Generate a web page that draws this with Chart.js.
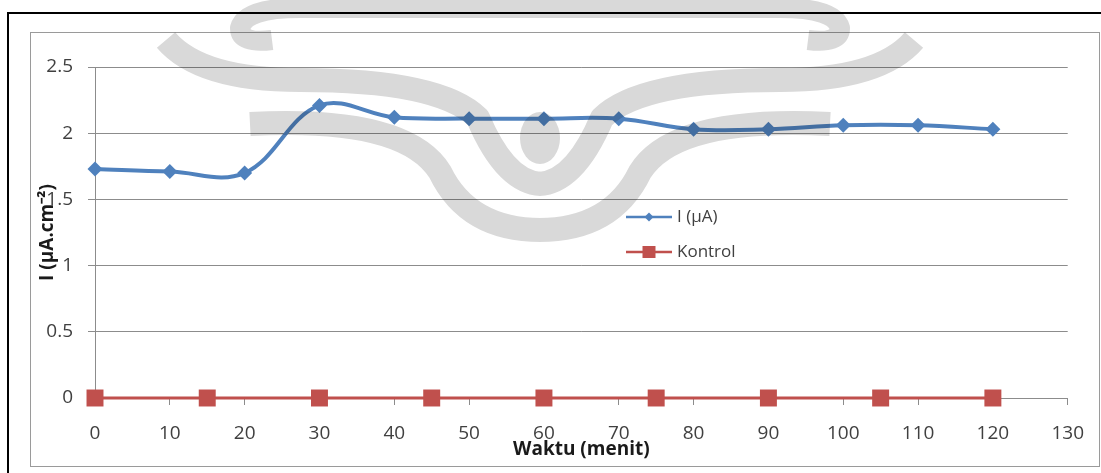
<!DOCTYPE html>
<html>
<head>
<meta charset="utf-8">
<script src="https://cdn.jsdelivr.net/npm/chart.js@4.4.1/dist/chart.umd.min.js"></script>
<style>
  html, body { margin: 0; padding: 0; background: #ffffff; }
  #wrap { position: absolute; left: 0; top: 0; width: 1101px; height: 473px; }
</style>
</head>
<body>
<div id="wrap"><canvas id="c" width="1101" height="473"></canvas></div>
<script>
// Time in minutes and measured current
const waktuArus = [0, 10, 20, 30, 40, 50, 60, 70, 80, 90, 100, 110, 120];
const arus = [1.73, 1.71, 1.70, 2.21, 2.12, 2.11, 2.11, 2.11, 2.03, 2.03, 2.06, 2.06, 2.03];

// Control series
const waktuKontrol = [0, 15, 30, 45, 60, 75, 90, 105, 120];
const kontrol = [0, 0, 0, 0, 0, 0, 0, 0, 0];

const labelArus = 'I (µA)';
const labelKontrol = 'Kontrol';
const judulX = 'Waktu (menit)';
const judulY = 'I (µA.cm⁻²)';

const FONT = '"Open Sans", "Liberation Sans", sans-serif';
const BLUE = '#4F81BD';
const RED = '#C0504D';
const GRID = '#8c8c8c';
const TEXT = '#404040';

function toXY(xs, ys) { return xs.map((x, i) => ({ x: x, y: ys[i] })); }

// Page frame and chart border
const framePlugin = {
  id: 'frame',
  beforeDraw(chart) {
    const ctx = chart.ctx;
    ctx.save();
    ctx.fillStyle = '#ffffff';
    ctx.fillRect(0, 0, chart.width, chart.height);
    ctx.strokeStyle = '#000000';
    ctx.lineWidth = 2;
    ctx.beginPath();
    ctx.moveTo(1101, 13);
    ctx.lineTo(8, 13);
    ctx.lineTo(8, 473);
    ctx.stroke();
    ctx.strokeStyle = '#9a9a9a';
    ctx.lineWidth = 1;
    ctx.strokeRect(30.5, 32.5, 1069, 434);
    ctx.restore();
  }
};

// Faint symmetric emblem printed over the page; painted once on its own
// layer, then multiplied so everything underneath shows through
const emblemPlugin = {
  id: 'emblem',
  afterDatasetsDraw(chart) {
    const layer = document.createElement('canvas');
    layer.width = chart.width;
    layer.height = chart.height;
    const g = layer.getContext('2d');
    g.strokeStyle = '#d9d9d9';
    g.fillStyle = '#d9d9d9';
    g.lineCap = 'butt';
    g.lineJoin = 'round';
    const half = () => {
      // top band with curl
      g.lineWidth = 20;
      g.beginPath();
      g.moveTo(540, 8);
      g.lineTo(300, 8);
      g.quadraticCurveTo(245, 8, 240, 28);
      g.quadraticCurveTo(240, 44, 272, 40);
      g.stroke();
      // upper wing sweeping into the centre
      g.lineWidth = 24;
      g.beginPath();
      g.moveTo(166, 40);
      g.quadraticCurveTo(200, 80, 300, 80);
      g.quadraticCurveTo(440, 80, 478, 118);
      g.quadraticCurveTo(505, 182, 541, 184);
      g.stroke();
      // lower wing
      g.beginPath();
      g.moveTo(250, 124);
      g.quadraticCurveTo(405, 116, 440, 172);
      g.quadraticCurveTo(468, 230, 541, 230);
      g.stroke();
    };
    half();
    g.save();
    g.translate(1080, 0);
    g.scale(-1, 1);
    half();
    g.restore();
    // central drop
    g.beginPath();
    g.ellipse(540, 138, 20, 26, 0, 0, Math.PI * 2);
    g.fill();

    const ctx = chart.ctx;
    ctx.save();
    ctx.globalCompositeOperation = 'multiply';
    ctx.drawImage(layer, 0, 0);
    ctx.restore();
  }
};

// Legend drawn inside the plot area
const innerLegend = {
  id: 'innerLegend',
  afterDraw(chart) {
    const ctx = chart.ctx;
    const x0 = 626, x1 = 672, tx = 677;
    const rows = [217, 252];
    ctx.save();
    chart.data.datasets.forEach((ds, i) => {
      const y = rows[i];
      ctx.strokeStyle = ds.borderColor;
      ctx.lineWidth = 2.5;
      ctx.beginPath();
      ctx.moveTo(x0, y);
      ctx.lineTo(x1, y);
      ctx.stroke();
      ctx.fillStyle = ds.pointBackgroundColor;
      ctx.beginPath();
      const cx = (x0 + x1) / 2;
      if (ds.pointStyle === 'rectRot') {
        ctx.moveTo(cx, y - 4.5);
        ctx.lineTo(cx + 4.5, y);
        ctx.lineTo(cx, y + 4.5);
        ctx.lineTo(cx - 4.5, y);
        ctx.closePath();
      } else {
        ctx.rect(cx - 6.5, y - 6, 13, 12);
      }
      ctx.fill();
      ctx.fillStyle = TEXT;
      ctx.font = '17px ' + FONT;
      ctx.textBaseline = 'middle';
      ctx.textAlign = 'left';
      ctx.fillText(ds.label, tx, y);
    });
    ctx.restore();
  }
};

new Chart(document.getElementById('c'), {
  type: 'line',
  data: {
    datasets: [
      {
        label: labelArus,
        data: toXY(waktuArus, arus),
        borderColor: BLUE,
        backgroundColor: BLUE,
        pointBackgroundColor: BLUE,
        pointBorderColor: BLUE,
        borderWidth: 4,
        pointStyle: 'rectRot',
        pointRadius: 7.5,
        pointBorderWidth: 0,
        tension: 0.38,
        fill: false,
        order: 2
      },
      {
        label: labelKontrol,
        data: toXY(waktuKontrol, kontrol),
        borderColor: RED,
        backgroundColor: RED,
        pointBackgroundColor: RED,
        pointBorderColor: RED,
        borderWidth: 3,
        pointStyle: 'rect',
        pointRadius: 12,
        pointBorderWidth: 0,
        tension: 0,
        fill: false,
        order: 1
      }
    ]
  },
  options: {
    responsive: false,
    animation: false,
    clip: false,
    layout: { padding: { left: 30, right: 31, top: 67, bottom: 7 } },
    plugins: {
      legend: { display: false },
      tooltip: { enabled: false }
    },
    scales: {
      x: {
        type: 'linear',
        min: 0,
        max: 130,
        ticks: {
          stepSize: 10,
          color: TEXT,
          padding: 17,
          font: { family: FONT, size: 19 },
          maxRotation: 0,
          callback: (v) => String(v)
        },
        grid: {
          drawOnChartArea: false,
          drawTicks: true,
          tickLength: 7,
          color: GRID
        },
        border: { display: true, color: GRID, width: 1 },
        title: {
          display: true,
          text: judulX,
          color: '#1a1a1a',
          font: { family: FONT, size: 19, weight: 'bold' },
          padding: { top: 0, bottom: 5 }
        },
        afterFit(scale) { scale.height = 68; }
      },
      y: {
        type: 'linear',
        min: 0,
        max: 2.5,
        ticks: {
          stepSize: 0.5,
          color: TEXT,
          padding: 15,
          font: { family: FONT, size: 19 },
          callback: (v) => String(v)
        },
        grid: {
          drawOnChartArea: true,
          drawTicks: true,
          tickLength: 7,
          color: GRID
        },
        border: { display: true, color: GRID, width: 1 },
        title: {
          display: true,
          text: judulY,
          color: '#1a1a1a',
          font: { family: FONT, size: 19, weight: 'bold' },
          padding: { top: 6, bottom: 0 }
        },
        afterFit(scale) { scale.width = 65; }
      }
    }
  },
  plugins: [framePlugin, emblemPlugin, innerLegend]
});
</script>
</body>
</html>
